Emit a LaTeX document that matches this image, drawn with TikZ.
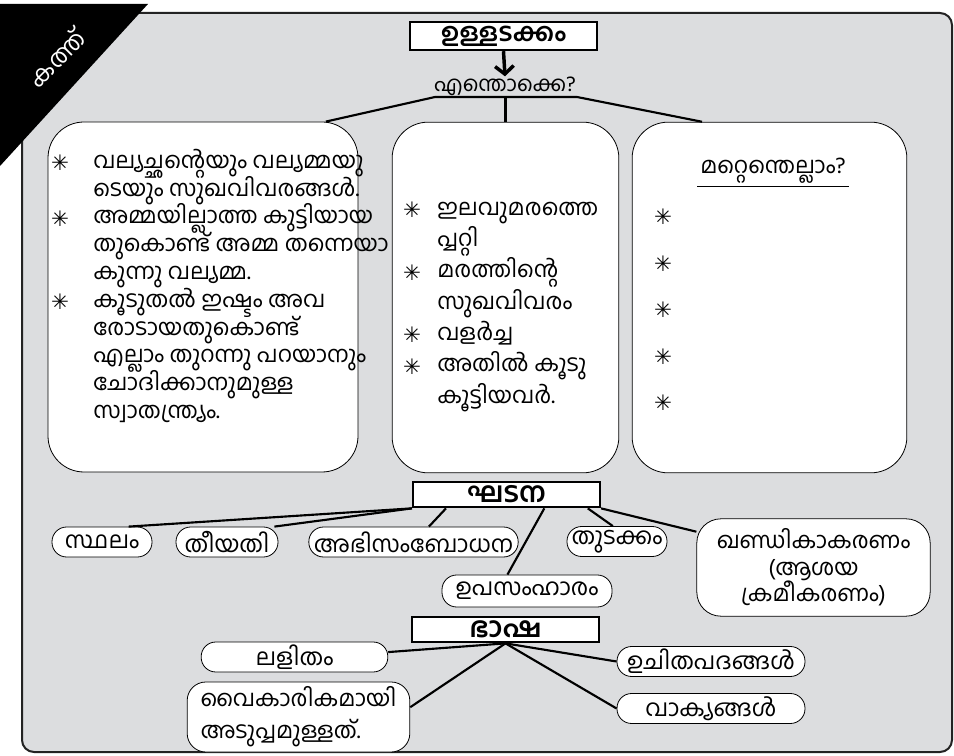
\documentclass[tikz,border=0pt]{standalone}
\usepackage{fontspec}
\usepackage{tikz}
\usetikzlibrary{calc,arrows.meta,positioning}
\newfontfamily\mlfont[Script=Malayalam]{Hind Kochi}
\newfontfamily\symfont{DejaVu Sans}
\definecolor{panelGray}{RGB}{220,221,223}
\definecolor{frameDark}{RGB}{35,35,35}
\newcommand{\astmark}{{\symfont ✳}}

\begin{document}
\begin{tikzpicture}[x=0.75pt,y=-0.75pt,
  mltxt/.style={font=\mlfont\fontsize{17}{20}\selectfont},
  headbox/.style={draw=black,line width=1.8pt,fill=white,minimum width=140pt,inner sep=0pt,
    font=\mlfont\bfseries\fontsize{19}{20}\selectfont},
  bigbox/.style={draw=black,line width=0.6pt,fill=white,rounded corners=27pt,inner sep=0pt},
  pill/.style={draw=black,line width=0.6pt,fill=white,rounded corners=11pt,inner sep=0pt,
    minimum height=22.5pt,font=\mlfont\fontsize{17.5}{20}\selectfont},
  link/.style={line width=1.6pt,black},
  rowtxt/.style={anchor=west,inner sep=0pt,text height=12pt,text depth=4pt,mltxt},
  astnode/.style={inner sep=0pt,font=\symfont\fontsize{16}{16}\selectfont}]
\useasboundingbox (0,0) rectangle (954,756);

% panel and corner tag
\draw[frameDark,line width=1.5pt,fill=panelGray,rounded corners=9pt] (22,13) rectangle (952,752);
\fill[black] (0,4) -- (148,4) -- (0,166) -- cycle;
\node[rotate=45,text=white,inner sep=0pt,font=\mlfont\fontsize{18}{18}\selectfont] (tag) at (56,58) {കത്ത്};

% top: contents
\node[headbox,minimum height=21pt] (title) at (503.5,36) {ഉള്ളടക്കം};
\node[inner sep=0pt,font=\mlfont\fontsize{16}{18}\selectfont] (enthokke) at (505,86) {എന്തൊക്കെ?};
\draw[link,line width=2.6pt,-{Straight Barb[length=6pt,width=14pt]}] (title.south) -- (enthokke.north);

\node[bigbox,minimum width=232.5pt,minimum height=262.5pt] (leftbox) at (203,297) {};
\node[bigbox,minimum width=170pt,minimum height=263pt] (midbox) at (505.5,297.5) {};
\node[bigbox,minimum width=206pt,minimum height=263pt] (rightbox) at (769.5,297.5) {};

\coordinate (barL) at (435,97);
\coordinate (barR) at (577,97);
\draw[link] (leftbox.55) -- (barL) -- (barR) -- (rightbox.111);
\draw[link] (midbox.north) -- (midbox.north |- barL);

% left box
\foreach \t [count=\i] in {വല്യച്ഛന്റെയും വല്യമ്മയു, ടെയും സുഖവിവരങ്ങൾ., അമ്മയില്ലാത്ത കുട്ടിയായ,
  തുകൊണ്ട് അമ്മ തന്നെയാ, കുന്നു വല്യമ്മ., കൂടുതൽ ഇഷ്ടം അവ, രോടായതുകൊണ്ട്,
  എല്ലാം തുറന്നു പറയാനും, ചോദിക്കാനുമുള്ള, സ്വാതന്ത്ര്യം.}
  \node[rowtxt] (lrow\i) at (93,{163+27.8*(\i-1)}) {\t};
\foreach \i in {1,3,6}
  \node[astnode] (last\i) at (60,{163+27.8*(\i-1)}) {\astmark};

% middle box
\foreach \t [count=\i] in {ഇലവുമരത്തെ, പ്പറ്റി, മരത്തിന്റെ, സുഖവിവരം, വളർച്ച, അതിൽ കൂടു, കൂട്ടിയവർ.}
  \node[rowtxt] (mrow\i) at (437,{210+31.3*(\i-1)}) {\t};
\foreach \i in {1,3,5,6}
  \node[astnode] (mast\i) at (412,{210+31.3*(\i-1)}) {\astmark};

% right box
\node[inner sep=2pt,mltxt] (others) at (773,171) {മറ്റെന്തെല്ലാം?};
\draw[line width=0.8pt] (others.south west) -- (others.south east);
\foreach \i in {1,...,5}
  \node[astnode] (rast\i) at (663,{217+46.5*(\i-1)}) {\astmark};

% structure
\node[headbox,minimum height=19pt,font=\mlfont\bfseries\fontsize{21}{20}\selectfont] (ghatana) at (506.5,494.5) {ഘടന};
\node[pill,minimum width=75pt] (sthalam) at (102,542) {സ്ഥലം};
\node[pill,minimum width=76.5pt] (theeyathi) at (227,542) {തീയതി};
\node[pill,minimum width=157pt] (abhi) at (413.5,542) {അഭിസംബോധന};
\node[pill,minimum width=75pt] (thudakkam) at (617,541.5) {തുടക്കം};
\node[pill,minimum width=127.5pt,minimum height=24pt] (upa) at (527,591) {ഉപസംഹാരം};
\node[draw=black,line width=0.6pt,fill=white,rounded corners=18pt,minimum width=175pt,
  minimum height=73pt,align=center,font=\mlfont\fontsize{17}{20}\selectfont] (khandika)
  at (813.5,567.5) {ഖണ്ഡികാകരണം\\(ആശയ\\ക്രമീകരണം)};

\draw[link] (ghatana.south west) -- (sthalam.30);
\draw[link] (ghatana.south west) -- (theeyathi.18);
\draw[link] ($(ghatana.south west)!.18!(ghatana.south east)$) -- (abhi.45);
\draw[link] ($(ghatana.south west)!.70!(ghatana.south east)$) -- (upa.140);
\draw[link] ($(ghatana.south west)!.93!(ghatana.south east)$) -- (thudakkam.105);
\draw[link] (ghatana.south east) -- (khandika.163);

% language
\node[headbox,minimum height=19pt,font=\mlfont\bfseries\fontsize{21}{20}\selectfont] (bhasha) at (505.5,629.5) {ഭാഷ};
\node[pill,minimum width=140pt] (lalitham) at (294.5,657) {ലളിതം};
\node[draw=black,line width=0.6pt,fill=white,rounded corners=14pt,minimum width=167pt,
  minimum height=52.5pt,align=left,font=\mlfont\fontsize{17}{24}\selectfont] (vaikarika)
  at (298.5,717) {വൈകാരികമായി\\അടുപ്പമുള്ളത്.};
\node[pill,minimum width=141pt] (uchitha) at (711,661.5) {ഉചിതപദങ്ങൾ};
\node[pill,minimum width=141pt] (vakyangal) at (711,708.5) {വാക്യങ്ങൾ};

\draw[link] (bhasha.south) -- (lalitham.3);
\draw[link] (bhasha.south) -- (vaikarika.5);
\draw[link] (bhasha.south) -- (uchitha.west);
\draw[link] (bhasha.south) -- (vakyangal.west);
\end{tikzpicture}
\end{document}
